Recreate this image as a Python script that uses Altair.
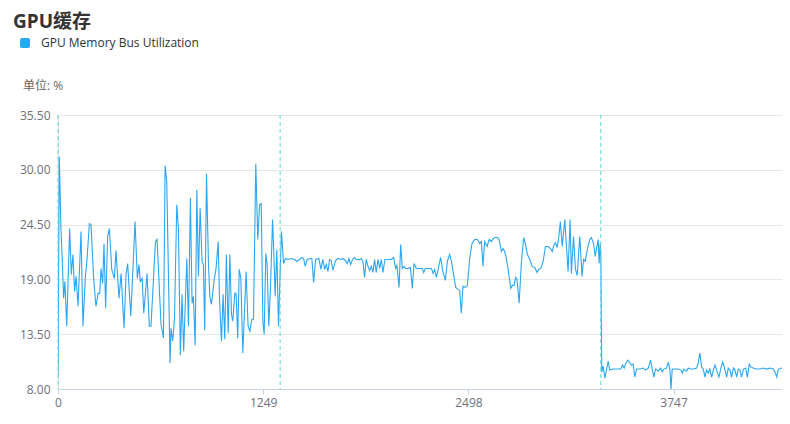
import altair as alt
import pandas as pd

# ---- data ----
x_idx = [
    0, 8, 18, 28, 34, 42, 53, 71, 81, 91, 101, 110, 122, 140, 152, 166, 177, 191, 201, 217,
    231, 244, 254, 262, 272, 280, 290, 302, 313, 327, 343, 353, 371, 384, 402, 414, 424, 443, 469, 483,
    493, 501, 512, 522, 542, 556, 566, 593, 603, 627, 642, 652, 662, 682, 688, 698, 709, 723, 733, 745,
    755, 765, 784, 794, 806, 816, 824, 835, 845, 855, 865, 877, 885, 893, 904, 916, 924, 934, 952, 962,
    975, 983, 995, 1005, 1015, 1025, 1036, 1046, 1056, 1064, 1076, 1084, 1094, 1103, 1113, 1125, 1145, 1157, 1168, 1180,
    1190, 1204, 1216, 1227, 1237, 1247, 1255, 1265, 1273, 1283, 1294, 1306, 1314, 1322, 1332, 1342, 1360, 1373, 1385, 1399,
    1420, 1440, 1454, 1470, 1485, 1495, 1505, 1517, 1535, 1545, 1556, 1568, 1588, 1600, 1612, 1623, 1633, 1643, 1653, 1663,
    1673, 1690, 1704, 1724, 1734, 1749, 1761, 1771, 1781, 1791, 1803, 1816, 1836, 1846, 1856, 1866, 1876, 1887, 1897, 1907,
    1917, 1927, 1937, 1948, 1958, 1968, 1978, 1990, 2008, 2029, 2043, 2055, 2063, 2076, 2086, 2096, 2106, 2116, 2130, 2145,
    2157, 2167, 2181, 2201, 2218, 2226, 2236, 2252, 2273, 2283, 2293, 2303, 2313, 2329, 2344, 2358, 2370, 2384, 2394, 2409,
    2421, 2435, 2445, 2455, 2465, 2480, 2492, 2506, 2520, 2536, 2553, 2567, 2577, 2587, 2597, 2612, 2624, 2638, 2644, 2658,
    2675, 2685, 2699, 2709, 2719, 2729, 2740, 2756, 2766, 2776, 2786, 2794, 2807, 2821, 2835, 2845, 2857, 2872, 2886, 2902,
    2916, 2926, 2939, 2953, 2967, 2983, 2998, 3008, 3018, 3028, 3038, 3048, 3058, 3069, 3085, 3095, 3105, 3117, 3125, 3138,
    3150, 3160, 3176, 3190, 3199, 3209, 3223, 3237, 3247, 3260, 3270, 3278, 3288, 3294, 3300, 3304, 3310, 3318, 3329, 3349,
    3359, 3379, 3410, 3426, 3436, 3446, 3457, 3467, 3477, 3491, 3501, 3511, 3522, 3542, 3562, 3576, 3593, 3607, 3617, 3627,
    3637, 3654, 3668, 3678, 3688, 3704, 3715, 3725, 3731, 3739, 3755, 3775, 3792, 3800, 3810, 3826, 3836, 3847, 3867, 3887,
    3897, 3907, 3918, 3928, 3938, 3948, 3958, 3968, 3979, 3989, 3999, 4009, 4023, 4035, 4046, 4056, 4070, 4080, 4090, 4100,
    4111, 4121, 4131, 4141, 4151, 4161, 4172, 4186, 4196, 4208, 4218, 4232, 4253, 4273, 4293, 4314, 4334, 4354, 4364, 4375,
    4385, 4405, 4425, 4441, 4456,
]
utilization = [
    9.4, 31.3, 24.1, 20.1, 17.1, 18.8, 14.3, 24.1, 19.5, 21.5, 17.8, 19.3, 16.3, 23.8, 14.3, 19.1, 21.1, 24.6, 24.5, 19.1,
    16.3, 17.6, 17.6, 20.1, 18.6, 22.6, 16.1, 23.3, 24.1, 20.0, 19.1, 21.9, 17.1, 19.6, 14.1, 19.5, 20.6, 15.3, 24.8, 19.1,
    20.5, 18.8, 19.1, 15.6, 19.6, 14.3, 14.3, 22.8, 23.0, 14.5, 13.1, 30.4, 28.8, 10.6, 14.1, 12.8, 15.1, 26.5, 24.1, 11.4,
    17.5, 11.8, 21.1, 14.3, 27.2, 16.6, 17.3, 12.4, 28.0, 19.3, 26.2, 20.8, 20.5, 13.9, 29.6, 20.5, 17.3, 16.5, 19.1, 20.1,
    22.8, 17.1, 12.8, 17.5, 13.0, 21.5, 13.6, 21.5, 15.5, 14.8, 17.6, 17.6, 13.1, 20.0, 19.1, 11.6, 19.8, 14.3, 13.8, 15.0,
    15.0, 30.6, 23.0, 26.5, 26.6, 14.8, 13.5, 21.6, 20.5, 14.3, 18.5, 25.0, 21.5, 17.3, 22.0, 14.3, 23.8, 20.6, 21.1, 21.0,
    21.1, 21.0, 20.8, 21.0, 21.2, 21.1, 20.3, 21.0, 21.1, 21.1, 18.7, 21.0, 21.1, 20.0, 21.0, 20.0, 20.5, 19.8, 21.0, 20.9,
    19.9, 20.9, 21.1, 21.0, 21.1, 20.9, 20.6, 21.1, 20.5, 20.9, 21.2, 21.0, 21.0, 21.1, 20.8, 19.2, 21.0, 20.3, 19.9, 20.3,
    19.7, 21.0, 19.7, 21.0, 20.1, 21.0, 19.7, 21.0, 21.0, 21.0, 21.2, 20.1, 20.4, 18.2, 22.5, 20.1, 20.3, 20.1, 20.1, 20.2,
    18.1, 20.6, 20.1, 20.1, 20.1, 19.7, 20.1, 20.1, 20.1, 19.6, 20.0, 19.2, 19.9, 21.2, 19.7, 18.9, 20.8, 21.5, 20.9, 19.4,
    18.2, 18.0, 17.9, 15.6, 18.3, 18.2, 18.4, 21.1, 22.6, 23.0, 23.0, 22.6, 22.8, 20.3, 22.8, 22.3, 23.0, 22.8, 23.0, 23.2,
    23.2, 23.0, 21.8, 22.1, 21.8, 21.1, 20.0, 18.1, 18.4, 18.4, 19.2, 19.0, 16.6, 20.8, 23.2, 22.6, 21.5, 21.0, 20.3, 20.2,
    19.7, 20.0, 20.1, 20.8, 22.3, 22.3, 22.1, 21.8, 22.4, 22.7, 22.2, 23.2, 24.8, 22.3, 25.0, 22.3, 19.8, 25.0, 19.6, 23.3,
    20.0, 19.4, 23.3, 19.3, 21.0, 20.8, 22.1, 23.0, 23.2, 22.6, 21.3, 22.1, 23.0, 20.6, 22.6, 21.6, 9.7, 10.3, 9.1, 10.8,
    9.9, 10.0, 10.0, 10.0, 10.4, 10.1, 10.6, 10.9, 10.7, 10.4, 10.5, 9.2, 10.0, 10.0, 10.1, 9.9, 10.1, 10.9, 10.0, 9.2,
    10.0, 9.8, 10.1, 9.7, 10.0, 10.1, 10.7, 9.9, 8.0, 10.0, 10.0, 10.0, 9.9, 9.6, 10.0, 9.8, 10.1, 10.0, 10.0, 10.1,
    10.6, 11.6, 10.2, 10.0, 9.2, 9.9, 9.6, 10.0, 9.2, 9.9, 10.4, 9.9, 9.2, 10.1, 10.7, 10.2, 9.2, 10.1, 9.9, 9.2,
    10.1, 9.9, 9.2, 10.0, 9.9, 9.2, 10.0, 10.1, 9.2, 10.5, 10.2, 10.1, 10.0, 10.0, 10.1, 10.0, 10.1, 10.0, 9.7, 9.2,
    10.0, 10.1, 10.0, 10.1, 9.9,
]
marker_x = [0, 1352, 3304]
x_ticks = [0, 1249, 2498, 3747]
y_ticks = [8, 13.5, 19, 24.5, 30, 35.5]

title_text = "GPU缓存"
series_name = "GPU Memory Bus Utilization"
unit_text = "单位: %"

FONT = "Open Sans, Noto Sans CJK SC, sans-serif"
LINE_COLOR = "#2ba6f5"
MARK_COLOR = "#5cd6d6"

# the page fits the chart into 774px, so the visible part of the axis is shown
W, H = 724, 274
X_MAX = 4407

df = pd.DataFrame({"x": x_idx, "v": utilization})
mk = pd.DataFrame({"x": marker_x})

xscale = alt.Scale(domain=[0, X_MAX], nice=False, zero=False)
yscale = alt.Scale(domain=[8, 35.5], nice=False, zero=False)

line = alt.Chart(df).mark_line(color=LINE_COLOR, strokeWidth=1.1, clip=True).encode(
    x=alt.X("x:Q", scale=xscale, axis=alt.Axis(
        values=x_ticks, format="d", title=None, grid=False, domainColor="#c9d2e2",
        tickColor="#c9d2e2", tickSize=5, labelColor="#6e7079", labelFontSize=12,
        labelFont=FONT, labelPadding=3, labelFlush=False)),
    y=alt.Y("v:Q", scale=yscale, axis=alt.Axis(
        values=y_ticks, format=".2f", title=None, domain=False, ticks=False,
        gridColor="#e6e6e6", labelColor="#6e7079", labelFontSize=12, labelFont=FONT,
        labelPadding=8)),
)

rules = alt.Chart(mk).mark_rule(color=MARK_COLOR, strokeDash=[4, 3], strokeWidth=1).encode(
    x=alt.X("x:Q", scale=xscale),
    y=alt.value(0),
    y2=alt.value(H),
)

title = alt.Chart(pd.DataFrame({"t": [title_text]})).mark_text(
    align="left", baseline="alphabetic", fontSize=19, fontWeight="bold", font=FONT, color="#333333"
).encode(text="t:N", x=alt.value(-45), y=alt.value(-87))

legend_sym = alt.Chart(pd.DataFrame({"t": [series_name]})).mark_rect(
    color=LINE_COLOR, cornerRadius=2
).encode(x=alt.value(-38), x2=alt.value(-28), y=alt.value(-77), y2=alt.value(-67))

legend_txt = alt.Chart(pd.DataFrame({"t": [series_name]})).mark_text(
    align="left", baseline="middle", fontSize=12, font=FONT, color="#333333"
).encode(text="t:N", x=alt.value(-17), y=alt.value(-72))

unit = alt.Chart(pd.DataFrame({"t": [unit_text]})).mark_text(
    align="left", baseline="middle", fontSize=12, font=FONT, color="#666666"
).encode(text="t:N", x=alt.value(-35), y=alt.value(-29))

chart = alt.layer(line, rules, title, legend_sym, legend_txt, unit).properties(
    width=W, height=H,
    padding={"left": 50, "top": 107, "right": 0, "bottom": 27},
    autosize=alt.AutoSizeParams(type="none"),
).configure_view(stroke=None).configure(background="white")

chart.save("out.html", embed_options={"renderer": "svg", "actions": False})
